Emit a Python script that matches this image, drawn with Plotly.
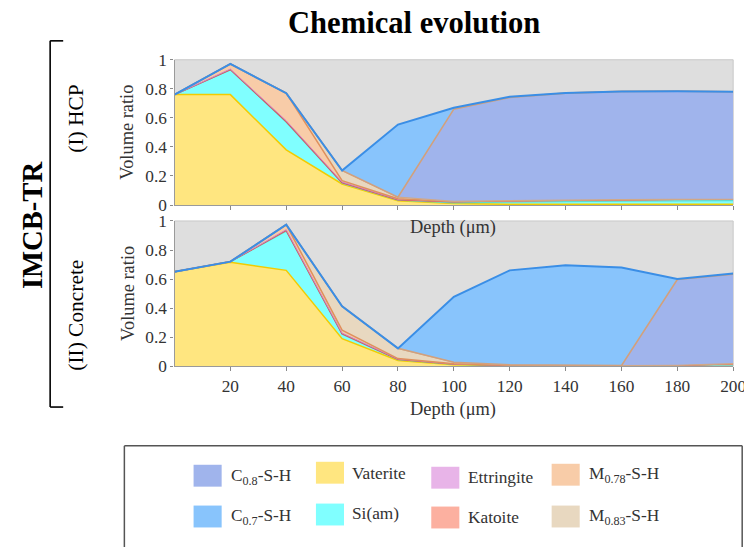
import plotly.graph_objects as go

# Measured page behaviour: the rendered picture shows the paper scaled by
# 0.98 horizontally and 0.97 vertically, shifted 8 px down.
W, H = 760, 547
SX, SY, TOP = 0.98, 0.97, 8
FS = 1.02  # font compensation for the scaling

depth = [0, 20, 40, 60, 80, 100, 120, 140, 160, 180, 200]
xtick_vals = [20, 40, 60, 80, 100, 120, 140, 160, 180, 200]
ytick_vals = [0, 0.2, 0.4, 0.6, 0.8, 1]
ytick_text = ["0", "0.2", "0.4", "0.6", "0.8", "1"]

# (I) HCP  - volume ratios per phase (stacked bottom -> top)
hcp_vaterite = [0.76, 0.76, 0.38, 0.145, 0.03, 0.01, 0.005, 0.005, 0.005, 0.005, 0.005]
hcp_si_am = [0.0, 0.17, 0.19, 0.005, 0.003, 0.005, 0.015, 0.02, 0.022, 0.024, 0.025]
hcp_katoite = [0.0, 0.003, 0.005, 0.005, 0.004, 0.008, 0.01, 0.01, 0.01, 0.01, 0.01]
hcp_ettringite = [0.0, 0.003, 0.005, 0.003, 0.002, 0.002, 0.0, 0.0, 0.0, 0.0, 0.0]
hcp_m078 = [0.0, 0.035, 0.19, 0.01, 0.005, 0.0, 0.0, 0.0, 0.0, 0.0, 0.0]
hcp_m083 = [0.0, 0.0, 0.0, 0.07, 0.01, 0.0, 0.0, 0.0, 0.0, 0.0, 0.0]
hcp_c08 = [0.0, 0.0, 0.0, 0.0, 0.0, 0.635, 0.71, 0.735, 0.745, 0.745, 0.74]
hcp_c07 = [0.0, 0.0, 0.0, 0.0, 0.5, 0.01, 0.005, 0.002, 0.0, 0.0, 0.0]

# (II) Concrete
con_vaterite = [0.65, 0.715, 0.66, 0.19, 0.04, 0.01, 0.003, 0.002, 0.001, 0.001, 0.001]
con_si_am = [0.0, 0.005, 0.27, 0.03, 0.005, 0.003, 0.002, 0.001, 0.0, 0.0, 0.002]
con_katoite = [0.0, 0.0, 0.005, 0.005, 0.003, 0.002, 0.002, 0.002, 0.003, 0.006, 0.015]
con_ettringite = [0.0, 0.0, 0.005, 0.003, 0.002, 0.001, 0.0, 0.0, 0.0, 0.0, 0.0]
con_m078 = [0.0, 0.0, 0.035, 0.02, 0.003, 0.002, 0.0, 0.0, 0.0, 0.0, 0.0]
con_m083 = [0.0, 0.0, 0.0, 0.165, 0.07, 0.01, 0.003, 0.0, 0.0, 0.0, 0.0]
con_c08 = [0.0, 0.0, 0.0, 0.0, 0.0, 0.0, 0.0, 0.0, 0.0, 0.59, 0.615]
con_c07 = [0.0, 0.0, 0.0, 0.0, 0.0, 0.45, 0.65, 0.69, 0.675, 0.003, 0.005]

phase_names = ["Vaterite", "Si(am)", "Katoite", "Ettringite",
               "M0.78-S-H", "M0.83-S-H", "C0.8-S-H", "C0.7-S-H"]
fill_colors = ["#FFE680", "#80FFFF", "#FCB0A0", "#E8B4E8",
               "#F8CCA8", "#E8D8C0", "#A0B4EC", "#88C4FC"]
line_colors = ["#F2CC00", "#5EDCD0", "#E05050", "#C888C8",
               "#E0905C", "#D0A888", "#D2A07C", "#3A8EE6"]
line_widths = [1.5, 1.2, 1.5, 1.0, 1.5, 1.2, 1.6, 2.0]

hcp = [hcp_vaterite, hcp_si_am, hcp_katoite, hcp_ettringite,
       hcp_m078, hcp_m083, hcp_c08, hcp_c07]
con = [con_vaterite, con_si_am, con_katoite, con_ettringite,
       con_m078, con_m083, con_c08, con_c07]

def px(x):
    return min(1.0, (x / SX) / W)

def py(y):
    return 1 - ((y - TOP) / SY) / H

def fs(s):
    return round(s * FS, 1)

fig = go.Figure()
for panel, (data, xa, ya) in enumerate([(hcp, "x", "y"), (con, "x2", "y2")]):
    for i, vals in enumerate(data):
        fig.add_trace(go.Scatter(
            x=depth, y=vals, mode="lines", name=phase_names[i],
            stackgroup="s%d" % panel, xaxis=xa, yaxis=ya,
            line=dict(color=line_colors[i], width=line_widths[i]),
            fillcolor=fill_colors[i], showlegend=False, hoverinfo="skip"))

font_main = "Liberation Serif"
tickfont = dict(family=font_main, size=fs(17), color="#333333")

common_x = dict(range=[0, 200], tickvals=xtick_vals, ticks="outside", ticklen=4,
                tickcolor="#8A8A8A", showline=True, linecolor="#9A9A9A", linewidth=1.2,
                showgrid=False, zeroline=False, tickfont=tickfont, fixedrange=True,
                ticklabeloverflow="allow")
common_y = dict(range=[0, 1], tickvals=ytick_vals, ticktext=ytick_text, ticks="outside",
                ticklen=3, tickcolor="#8A8A8A", showline=True, linecolor="#9A9A9A",
                linewidth=1.2, showgrid=False, zeroline=False, tickfont=tickfont,
                fixedrange=True)

x_dom = [px(174), px(731)]
fig.update_layout(
    width=W, height=H, autosize=False, margin=dict(l=0, r=0, t=0, b=0, pad=0),
    paper_bgcolor="white", plot_bgcolor="#DEDEDE",
    xaxis=dict(domain=x_dom, anchor="y", showticklabels=False, **common_x),
    yaxis=dict(domain=[py(205), py(59)], anchor="x", **common_y),
    xaxis2=dict(domain=x_dom, anchor="y2", showticklabels=True, **common_x),
    yaxis2=dict(domain=[py(367), py(221)], anchor="x2", **common_y),
    showlegend=False,
)

ann = []
def text(x, y, s, size, angle=0, xanchor="center", color="#000000"):
    ann.append(dict(x=px(x), y=py(y), xref="paper", yref="paper", text=s,
                    showarrow=False, textangle=angle, xanchor=xanchor, yanchor="middle",
                    font=dict(family=font_main, size=fs(size), color=color)))

text(413, 22, "<b>Chemical evolution</b>", 30)
text(33, 226, "<b>IMCB-TR</b>", 28, angle=-90)
text(76, 118, "(I) HCP", 21, angle=-90)
text(76, 316, "(II) Concrete", 21, angle=-90)
text(127, 132, "Volume ratio", 18, angle=-90, color="#333333")
text(127, 294, "Volume ratio", 18, angle=-90, color="#333333")
text(452, 228, "Depth (μm)", 18, color="#333333")
text(452, 410, "Depth (μm)", 18, color="#333333")

shapes = []
def seg(x0, y0, x1, y1, color, width):
    shapes.append(dict(type="line", xref="paper", yref="paper", x0=px(x0), y0=py(y0),
                       x1=px(x1), y1=py(y1), line=dict(color=color, width=width)))

# bracket
seg(50, 40, 50, 408, "#000000", 1.6)
seg(50, 40, 63, 40, "#000000", 1.6)
seg(50, 408, 63, 408, "#000000", 1.6)
# light frame on plot areas (top/right edges)
for (yt, yb) in [(59, 205), (221, 367)]:
    shapes.append(dict(type="rect", xref="paper", yref="paper", x0=x_dom[0], x1=x_dom[1],
                       y0=py(yb), y1=py(yt), line=dict(color="#C8C8C8", width=1), layer="below"))
# legend box (open at the bottom, runs off the page)
seg(124, 447, 740, 447, "#555555", 1.5)
seg(124, 447, 124, 560, "#555555", 1.5)
seg(740, 447, 740, 560, "#555555", 1.5)

legend_items = [
    ("C<sub>0.8</sub>-S-H", 6, 193, 466, 228, 478),
    ("C<sub>0.7</sub>-S-H", 7, 193, 507, 228, 518),
    ("Vaterite", 0, 315, 463, 349, 475),
    ("Si(am)", 1, 315, 505, 349, 515),
    ("Ettringite", 3, 430, 468, 465, 479),
    ("Katoite", 2, 430, 508, 465, 519),
    ("M<sub>0.78</sub>-S-H", 4, 550, 465, 585, 476),
    ("M<sub>0.83</sub>-S-H", 5, 550, 507, 585, 518),
]
for label, idx, sx, sy, tx, ty in legend_items:
    shapes.append(dict(type="rect", xref="paper", yref="paper", x0=px(sx), x1=px(sx + 28),
                       y0=py(sy + 22), y1=py(sy), fillcolor=fill_colors[idx],
                       line=dict(width=0)))
    text(tx, ty, label, 17, xanchor="left", color="#333333")

fig.update_layout(annotations=ann, shapes=shapes)
fig.write_html("out.html")
